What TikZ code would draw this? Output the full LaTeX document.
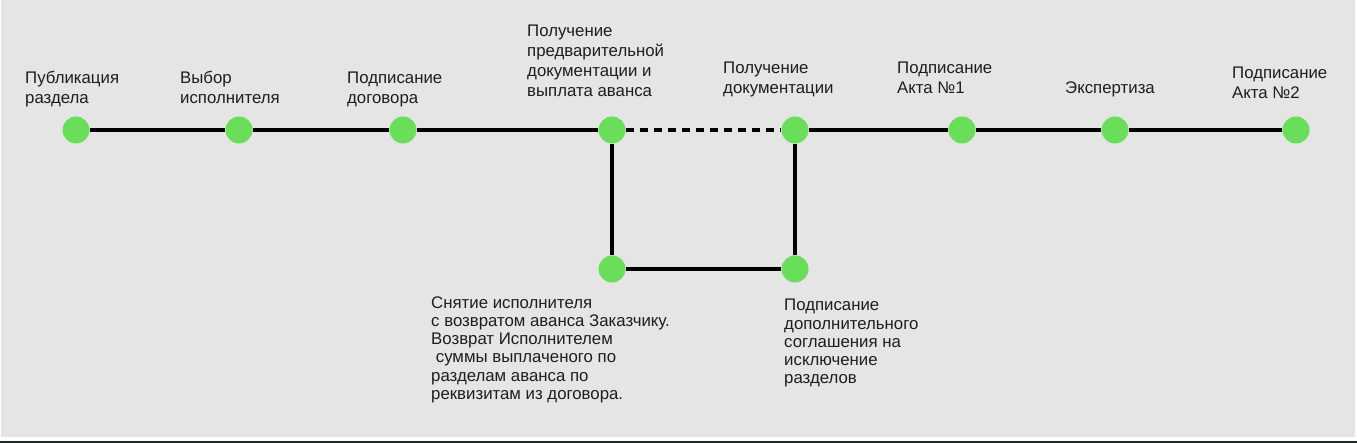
\documentclass[tikz,border=0pt]{standalone}
\usepackage{fontspec}
\setmainfont{Liberation Sans}
\usepackage{xcolor}
\usepackage{tikz}
\usetikzlibrary{positioning}
\definecolor{tlBack}{RGB}{229,229,229}
\definecolor{tlDot}{RGB}{106,222,90}
\definecolor{tlText}{RGB}{30,30,30}
\definecolor{tlBar}{RGB}{31,39,43}

\begin{document}
\begin{tikzpicture}[
    x=1pt, y=-1pt,
    dot/.style={circle, fill=tlDot, draw=none, minimum size=27pt, inner sep=0pt},
    toplabel/.style={anchor=base west, align=left, inner sep=0pt, text=tlText, font=\fontsize{16.8}{20.3}\selectfont},
    lowlabel/.style={anchor=base west, align=left, inner sep=0pt, text=tlText, font=\fontsize{16.8}{18.3}\selectfont},
    link/.style={line width=3.3pt, draw=black},
    gap/.style={line width=3.3pt, draw=black, dash pattern=on 8pt off 6pt}
]

% Frame
\fill[white] (0,0) rectangle (1357,443);
\fill[tlBack] (1,0) rectangle (1355,437);
\fill[tlBar] (0,441) rectangle (1357,443);
\useasboundingbox (0,0) rectangle (1357,443);

% Milestones on the main line
\node (pub) [dot] at (76,130) {};
\node (sel) [dot] at (239,130) {};
\node (con) [dot] at (403,130) {};
\node (adv) [dot] at (612,130) {};
\node (doc) [dot] at (795,130) {};
\node (act1) [dot] at (962,130) {};
\node (exp) [dot] at (1115,130) {};
\node (act2) [dot] at (1296,130) {};

% Side branch
\node (ret) [dot] at (612,269) {};
\node (add) [dot] at (795,269) {};

% Labels (anchored at the baseline of their last line)
\node (pub_t) [toplabel] at (25,103.5) {Публикация\\раздела};
\node (sel_t) [toplabel] at (180,103.5) {Выбор\\исполнителя};
\node (con_t) [toplabel] at (347,103.5) {Подписание\\договора};
\node (adv_t) [toplabel] at (527,97) {Получение\\предварительной\\документации и\\выплата аванса};
\node (doc_t) [toplabel] at (723,93.5) {Получение\\документации};
\node (act1_t) [toplabel] at (897,93.5) {Подписание\\Акта №1};
\node (exp_t) [toplabel] at (1065,93.5) {Экспертиза};
\node (act2_t) [toplabel] at (1232,98.5) {Подписание\\Акта №2};
\node (ret_t) [lowlabel] at (431,399.5) {Снятие исполнителя\\с возвратом аванса Заказчику.\\Возврат Исполнителем\\\ суммы выплаченого по\\разделам аванса по\\реквизитам из договора.};
\node (add_t) [lowlabel] at (784,384) {Подписание\\дополнительного\\соглашения на\\исключение\\разделов};

% Connections
\draw [link] (pub) -- (sel);
\draw [link] (sel) -- (con);
\draw [link] (con) -- (adv);
\draw [gap] (adv) -- (doc);
\draw [link] (doc) -- (act1);
\draw [link] (act1) -- (exp);
\draw [link] (exp) -- (act2);

\draw [link] (adv) -- (ret);
\draw [link] (ret) -- (add);
\draw [link] (doc) -- (add);

\end{tikzpicture}
\end{document}
